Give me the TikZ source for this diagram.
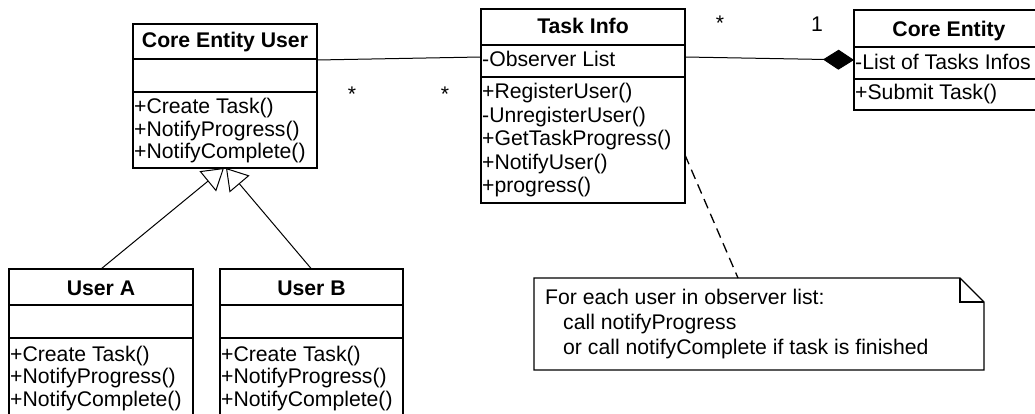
\documentclass[tikz,border=0pt]{standalone}
\usepackage{fontspec}
\setmainfont{Liberation Sans}
\usetikzlibrary{arrows.meta}
\newcommand\diagfont{\fontsize{21.2}{24}\selectfont}
\begin{document}
\begin{tikzpicture}[x=1pt,y=-1pt,
  every node/.style={font=\diagfont},
  box/.style={draw, line width=1.5pt, anchor=north west, inner sep=0pt, outer sep=0pt},
  rule/.style={line width=1.5pt},
  title/.style={font=\diagfont\bfseries, anchor=base, inner sep=0pt},
  member/.style={anchor=base west, inner sep=0pt},
  link/.style={line width=1pt},
  mult/.style={anchor=base, inner sep=0pt},
  notebody/.style={line width=1.2pt},
  gen/.style={link, -{Triangle[open, length=21pt, width=26pt, line width=1pt]}},
  comp/.style={link, -{Diamond[length=31pt, width=20pt]}},
]
\useasboundingbox (0,0) rectangle (1035,414);
\clip (0,0) rectangle (1035,414);

% ---- Core Entity User ----
\node[box, minimum width=184pt, minimum height=144pt] (ceu) at (133,24) {};
\draw[rule] ([yshift=-35pt]ceu.north west) -- ([yshift=-35pt]ceu.north east);
\draw[rule] ([yshift=-68pt]ceu.north west) -- ([yshift=-68pt]ceu.north east);
\node[title] (ceu-name) at ([yshift=-24pt]ceu.north) {Core Entity User};
\node[member] (ceu-m1) at ([xshift=1pt,yshift=-90pt]ceu.north west) {+Create Task()};
\node[member] (ceu-m2) at ([xshift=1pt,yshift=-112.5pt]ceu.north west) {+NotifyProgress()};
\node[member] (ceu-m3) at ([xshift=1pt,yshift=-135pt]ceu.north west) {+NotifyComplete()};

% ---- Task Info ----
\node[box, minimum width=204pt, minimum height=194pt] (ti) at (481,9) {};
\draw[rule] ([yshift=-36pt]ti.north west) -- ([yshift=-36pt]ti.north east);
\draw[rule] ([yshift=-68pt]ti.north west) -- ([yshift=-68pt]ti.north east);
\node[title] (ti-name) at ([yshift=-25pt]ti.north) {Task Info};
\node[member] (ti-a1) at ([xshift=1pt,yshift=-58pt]ti.north west) {-Observer List};
\node[member] (ti-m1) at ([xshift=1pt,yshift=-90pt]ti.north west) {+RegisterUser()};
\node[member] (ti-m2) at ([xshift=1pt,yshift=-113.5pt]ti.north west) {-UnregisterUser()};
\node[member] (ti-m3) at ([xshift=1pt,yshift=-137pt]ti.north west) {+GetTaskProgress()};
\node[member] (ti-m4) at ([xshift=1pt,yshift=-160.5pt]ti.north west) {+NotifyUser()};
\node[member] (ti-m5) at ([xshift=1pt,yshift=-184pt]ti.north west) {+progress()};

% ---- Core Entity ----
\node[box, minimum width=190pt, minimum height=100pt] (ce) at (854,10) {};
\draw[rule] ([yshift=-37pt]ce.north west) -- ([yshift=-37pt]ce.north east);
\draw[rule] ([yshift=-69pt]ce.north west) -- ([yshift=-69pt]ce.north east);
\node[title] (ce-name) at ([yshift=-27pt]ce.north) {Core Entity};
\node[member] (ce-a1) at ([xshift=1pt,yshift=-60pt]ce.north west) {-List of Tasks Infos};
\node[member] (ce-m1) at ([xshift=1pt,yshift=-90pt]ce.north west) {+Submit Task()};

% ---- User A ----
\node[box, minimum width=184pt, minimum height=180pt] (ua) at (9,269) {};
\draw[rule] ([yshift=-36pt]ua.north west) -- ([yshift=-36pt]ua.north east);
\draw[rule] ([yshift=-69pt]ua.north west) -- ([yshift=-69pt]ua.north east);
\node[title] (ua-name) at ([yshift=-26pt]ua.north) {User A};
\node[member] (ua-m1) at ([xshift=1pt,yshift=-92pt]ua.north west) {+Create Task()};
\node[member] (ua-m2) at ([xshift=1pt,yshift=-114.5pt]ua.north west) {+NotifyProgress()};
\node[member] (ua-m3) at ([xshift=1pt,yshift=-137pt]ua.north west) {+NotifyComplete()};

% ---- User B ----
\node[box, minimum width=183pt, minimum height=180pt] (ub) at (220,269) {};
\draw[rule] ([yshift=-36pt]ub.north west) -- ([yshift=-36pt]ub.north east);
\draw[rule] ([yshift=-69pt]ub.north west) -- ([yshift=-69pt]ub.north east);
\node[title] (ub-name) at ([yshift=-26pt]ub.north) {User B};
\node[member] (ub-m1) at ([xshift=1pt,yshift=-92pt]ub.north west) {+Create Task()};
\node[member] (ub-m2) at ([xshift=1pt,yshift=-114.5pt]ub.north west) {+NotifyProgress()};
\node[member] (ub-m3) at ([xshift=1pt,yshift=-137pt]ub.north west) {+NotifyComplete()};

% ---- Note ----
\node[anchor=north west, minimum width=450pt, minimum height=92pt, inner sep=0pt, outer sep=0pt] (note) at (534,278) {};
\draw[notebody] (note.north west) -- ([xshift=-24pt]note.north east)
  -- ([yshift=-24pt]note.north east) -- (note.south east) -- (note.south west) -- cycle;
\draw[notebody] ([xshift=-24pt]note.north east) -- ([xshift=-24pt,yshift=-24pt]note.north east)
  -- ([yshift=-24pt]note.north east);
\node[member] (note-l1) at ([xshift=11pt,yshift=-26pt]note.north west) {For each user in observer list:};
\node[member] (note-l2) at ([xshift=29pt,yshift=-51pt]note.north west) {call notifyProgress};
\node[member] (note-l3) at ([xshift=29pt,yshift=-76pt]note.north west) {or call notifyComplete if task is finished};

% ---- Connectors ----
\draw[link] ([yshift=-36pt]ceu.north east) -- ([yshift=-48pt]ti.north west);
\draw[comp] ([yshift=-48pt]ti.north east) -- ([yshift=-50pt]ce.north west);
\draw[gen] (ua.north) -- ([xshift=-1pt]ceu.south);
\draw[gen] (ub.north) -- ([xshift=1pt]ceu.south);
\draw[line width=1.3pt, dash pattern=on 10pt off 6pt] ([yshift=-146pt]ti.north east) -- ([xshift=204pt]note.north west);

% ---- Multiplicities ----
\node[mult] (mul-ceu) at (352,102) {*};
\node[mult] (mul-ti) at (445,102) {*};
\node[mult] (mul-ti2) at (720,31) {*};
\node[mult] (mul-ce) at (817,32) {1};
\end{tikzpicture}
\end{document}
